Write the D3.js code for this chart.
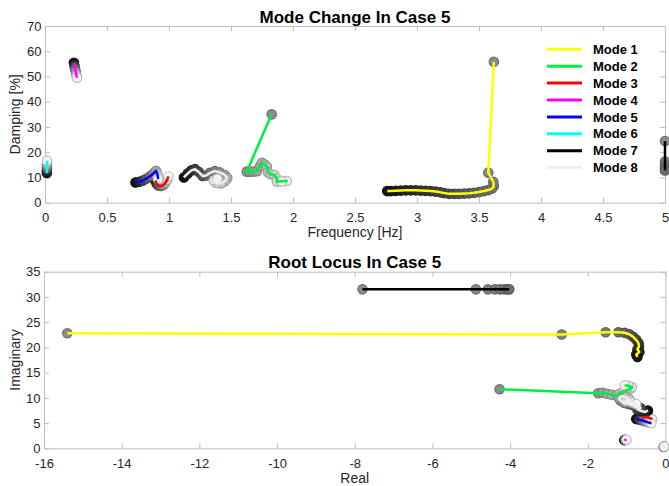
<!DOCTYPE html>
<html>
<head>
<meta charset="utf-8">
<script src="https://cdn.jsdelivr.net/npm/d3@7"></script>
<style>
html, body { margin: 0; padding: 0; background: #fff; }
svg { display: block; font-family: "Liberation Sans", Arial, Helvetica, sans-serif; }
</style>
</head>
<body>
<svg id="chart" width="669" height="486"></svg>
<script>
// ---- Data ----------------------------------------------------------------
const modeNames = ["Mode 1", "Mode 2", "Mode 3", "Mode 4", "Mode 5", "Mode 6", "Mode 7", "Mode 8"];

const freqTicks = [0, 0.5, 1, 1.5, 2, 2.5, 3, 3.5, 4, 4.5, 5];
const freqTickLabels = ["0", "0.5", "1", "1.5", "2", "2.5", "3", "3.5", "4", "4.5", "5"];
const dampTicks = [0, 10, 20, 30, 40, 50, 60, 70];
const realTicks = [-16, -14, -12, -10, -8, -6, -4, -2, 0];
const imagTicks = [0, 5, 10, 15, 20, 25, 30, 35];

// Frequency [Hz] / damping [%] trajectories
const mode1FD = [[3.62,55.8],[3.575,11.9],[3.615,8.3],[3.62,6.6],[3.605,5.6],[3.575,5.0],[3.54,4.6],[3.50,4.2],[3.46,3.9],[3.42,3.7],[3.38,3.6],[3.34,3.5],[3.30,3.5],[3.26,3.5],[3.22,3.8],[3.19,4.1],[3.15,4.4],[3.11,4.6],[3.07,4.7],[3.03,4.8],[2.99,4.9],[2.95,4.9],[2.91,4.9],[2.87,4.8],[2.83,4.7],[2.79,4.6],[2.76,4.6]];
const mode2FD = [[1.828,35.0],[1.627,12.3],[1.65,12.3],[1.68,12.3],[1.71,12.5],[1.735,14.5],[1.75,15.8],[1.77,15.2],[1.79,14.2],[1.80,12.0],[1.82,11.3],[1.85,11.0],[1.87,9.5],[1.87,8.3],[1.90,8.5],[1.93,8.6],[1.95,8.6],[1.91,8.4]];
const mode3FD = [[0.89,8.8],[0.90,7.6],[0.915,6.8],[0.935,6.6],[0.955,7.0],[0.97,7.8],[0.985,9.0],[0.995,10.4]];
const mode4FD = [[0.233,55.4],[0.238,54.2],[0.243,53.0],[0.248,51.8],[0.253,50.6],[0.258,49.5]];
const mode5FD = [[0.73,8.0],[0.76,8.3],[0.79,8.8],[0.82,9.6],[0.85,10.6],[0.875,11.6],[0.895,12.6],[0.905,11.5],[0.91,10.3],[0.912,9.3]];
const mode6FD = [[0.015,11.8],[0.015,12.8],[0.016,13.8],[0.016,14.8],[0.017,15.8],[0.017,16.6]];
const mode7FD = [[5.0,24.4],[5.0,16.3],[5.0,15.2],[5.0,14.3],[5.0,13.5],[5.0,12.8]];
const mode8FD = [[1.12,10.0],[1.15,11.5],[1.18,12.8],[1.21,13.3],[1.24,12.2],[1.27,10.6],[1.30,10.8],[1.33,11.8],[1.37,12.5],[1.41,12.0],[1.45,11.0],[1.47,9.8],[1.45,8.5],[1.42,7.6],[1.38,7.8],[1.36,8.8],[1.39,9.5]];

// Eigenvalue trajectories: real / imaginary parts
const mode1RI = [[-15.4,22.8],[-2.67,22.55],[-1.54,23.0],[-1.21,23.0],[-1.05,22.9],[-0.93,22.6],[-0.83,22.1],[-0.75,21.5],[-0.69,20.8],[-0.68,20.2],[-0.72,19.6],[-0.67,19.1],[-0.75,18.6],[-0.72,18.1]];
const mode2RI = [[-4.27,11.7],[-1.73,10.9],[-1.62,11.0],[-1.50,10.8],[-1.38,10.6],[-1.26,10.5],[-1.18,10.8],[-1.08,11.2],[-0.98,11.5],[-0.90,11.8],[-0.86,12.1],[-0.95,12.4],[-1.05,12.5]];
const mode3RI = [[-0.60,6.1],[-0.54,6.2],[-0.47,6.2],[-0.41,6.05],[-0.37,5.9],[-0.34,5.75]];
const mode4RI = [[-1.06,1.62],[-1.03,1.66],[-1.00,1.70]];
const mode5RI = [[-0.75,5.8],[-0.67,5.65],[-0.59,5.5],[-0.51,5.3],[-0.43,5.1],[-0.36,4.95]];
const mode6RI = [[-0.04,0.28],[-0.035,0.30],[-0.03,0.32]];
const mode7RI = [[-7.8,31.5],[-4.88,31.5],[-4.57,31.5],[-4.39,31.5],[-4.26,31.5],[-4.15,31.5],[-4.07,31.5],[-4.02,31.5]];
const mode8RI = [[-0.45,7.5],[-0.52,7.2],[-0.62,7.4],[-0.72,7.7],[-0.64,8.0],[-0.74,8.4],[-0.85,8.6],[-0.95,8.8],[-1.05,9.0],[-1.15,9.4],[-1.20,9.9],[-1.12,10.3],[-1.00,10.2],[-0.93,9.7],[-1.02,9.3],[-0.85,9.1],[-0.75,8.8]];

const modeChangeSeries = [mode1FD, mode2FD, mode3FD, mode4FD, mode5FD, mode6FD, mode7FD, mode8FD];
const rootLocusSeries = [mode1RI, mode2RI, mode3RI, mode4RI, mode5RI, mode6RI, mode7RI, mode8RI];

// ---- Styles --------------------------------------------------------------
const modeColors = ["#ffff00", "#00ee44", "#ff0000", "#ff00ff", "#0000ff", "#00ffff", "#000000", "#eeeeee"];
// marker shading runs from the first to the last point of each trajectory
const shadeStart = ["#8c8c8c", "#8c8c8c", "#111111", "#111111", "#111111", "#111111", "#8c8c8c", "#111111"];
const shadeEnd   = ["#141414", "#f4f4f4", "#f4f4f4", "#f4f4f4", "#f4f4f4", "#f4f4f4", "#6e6e6e", "#f4f4f4"];
const axisColor = "#bdbdbd";
const textColor = "#262626";

const svg = d3.select("#chart");

function styleAxis(sel) {
  sel.attr("font-family", null).attr("font-size", null);
  sel.select(".domain").attr("stroke", axisColor).attr("stroke-width", 1);
  sel.selectAll(".tick line").attr("stroke", axisColor).attr("stroke-width", 1);
  sel.selectAll(".tick text").attr("fill", textColor).attr("font-size", 13);
}

function drawPanel(cfg) {
  const g = svg.append("g");
  const x = d3.scaleLinear().domain(cfg.xDomain).range(cfg.xRange);
  const y = d3.scaleLinear().domain(cfg.yDomain).range(cfg.yRange);
  const [x0, x1] = cfg.xRange;
  const [y0, y1] = cfg.yRange;

  // box with inward ticks on all sides
  g.append("g").attr("transform", `translate(0,${y0})`)
    .call(d3.axisBottom(x).tickValues(cfg.xTicks).tickFormat((d, i) => cfg.xLabels[i])
      .tickSizeInner(-5).tickSizeOuter(0).tickPadding(10))
    .call(styleAxis);
  g.append("g").attr("transform", `translate(0,${y1})`)
    .call(d3.axisTop(x).tickValues(cfg.xTicks).tickFormat(() => "")
      .tickSizeInner(-5).tickSizeOuter(0))
    .call(styleAxis);
  g.append("g").attr("transform", `translate(${x0},0)`)
    .call(d3.axisLeft(y).tickValues(cfg.yTicks).tickFormat(d3.format("d"))
      .tickSizeInner(-5).tickSizeOuter(0).tickPadding(3.5))
    .call(styleAxis);
  g.append("g").attr("transform", `translate(${x1},0)`)
    .call(d3.axisRight(y).tickValues(cfg.yTicks).tickFormat(() => "")
      .tickSizeInner(-5).tickSizeOuter(0))
    .call(styleAxis);

  const line = d3.line().x(d => x(d[0])).y(d => y(d[1]));
  const markerLayer = g.append("g");
  const lineLayer = g.append("g");

  cfg.series.forEach((pts, i) => {
    const shade = d3.interpolateRgb(shadeStart[i], shadeEnd[i]);
    const n = pts.length;
    const t = j => (n > 1 ? j / (n - 1) : 0);
    markerLayer.append("g").selectAll("circle").data(pts).join("circle")
      .attr("cx", d => x(d[0]))
      .attr("cy", d => y(d[1]))
      .attr("r", 4.7)
      .attr("fill", (d, j) => shade(t(j)))
      .attr("stroke", (d, j) => d3.rgb(shade(t(j))).darker(0.7).formatHex())
      .attr("stroke-width", 1.2);
    lineLayer.append("path").datum(pts)
      .attr("d", line)
      .attr("fill", "none")
      .attr("stroke", modeColors[i])
      .attr("stroke-width", 2.5)
      .attr("stroke-linejoin", "round");
  });

  const cx = (x0 + x1) / 2;
  g.append("text").attr("x", cx).attr("y", cfg.titleY)
    .attr("text-anchor", "middle").attr("font-weight", "bold").attr("font-size", 17)
    .attr("fill", "#000").text(cfg.title);
  g.append("text").attr("x", cx).attr("y", cfg.xLabelY)
    .attr("text-anchor", "middle").attr("font-size", 14)
    .attr("fill", textColor).text(cfg.xLabel);
  g.append("text")
    .attr("transform", `translate(20,${(y0 + y1) / 2}) rotate(-90)`)
    .attr("text-anchor", "middle").attr("font-size", 14)
    .attr("fill", textColor).text(cfg.yLabel);
  return g;
}

drawPanel({
  xDomain: [0, 5], xRange: [45, 665],
  yDomain: [0, 70], yRange: [202.7, 26],
  xTicks: freqTicks, xLabels: freqTickLabels,
  yTicks: dampTicks,
  series: modeChangeSeries,
  title: "Mode Change In Case 5", titleY: 22.5,
  xLabel: "Frequency [Hz]", xLabelY: 237,
  yLabel: "Damping [%]"
});

drawPanel({
  xDomain: [-16, 0], xRange: [44, 665.4],
  yDomain: [0, 35], yRange: [448.3, 271.7],
  xTicks: realTicks, xLabels: realTicks.map(String),
  yTicks: imagTicks,
  series: rootLocusSeries,
  title: "Root Locus In Case 5", titleY: 268,
  xLabel: "Real", xLabelY: 482.5,
  yLabel: "Imaginary"
});

// legend
const legend = svg.append("g");
modeNames.forEach((name, i) => {
  const yy = 49.3 + i * 16.9;
  legend.append("line")
    .attr("x1", 547).attr("x2", 582).attr("y1", yy).attr("y2", yy)
    .attr("stroke", modeColors[i]).attr("stroke-width", 3);
  legend.append("text")
    .attr("x", 593).attr("y", yy + 4.6)
    .attr("font-size", 13).attr("font-weight", "bold").attr("fill", "#000")
    .text(name);
});
</script>
</body>
</html>
